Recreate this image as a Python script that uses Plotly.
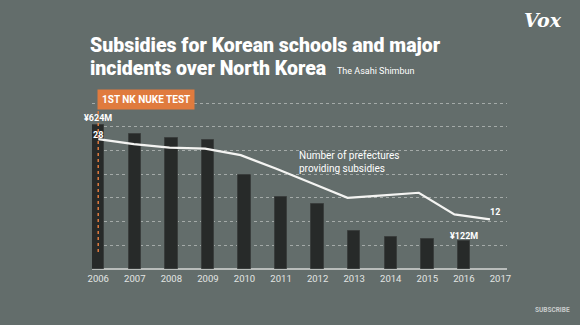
import plotly.graph_objects as go

# Subsidies to Korean schools (million yen) by fiscal year
years = [2006, 2007, 2008, 2009, 2010, 2011, 2012, 2013, 2014, 2015, 2016]
subsidies_m_yen = [624, 584, 567, 560, 406, 313, 283, 166, 141, 129, 122]

# Number of prefectures providing subsidies
pref_years = [2006, 2007, 2008, 2009, 2010, 2011, 2012, 2013, 2014, 2015, 2016, 2017]
prefectures = [28, 27, 26.3, 26.1, 24.8, 22.1, 19.2, 16.3, 16.8, 17.3, 13, 12]

tick_years = [2006, 2007, 2008, 2009, 2010, 2011, 2012, 2013, 2014, 2015, 2016, 2017]

BG = "#636d6b"
BAR = "#272a29"
ORANGE = "#e07b3e"
FONT = "Roboto"

# plot area: 415 x 168 px, bottom edge at y=269
PLOT_W, PLOT_H, BOTTOM = 415, 168, 269
GRID_STEP = 720 / 7
grid_vals = [GRID_STEP * i for i in range(1, 8)]


def px(xp, yp):
    """Pixel position in the page -> paper coordinates."""
    return (xp - 92) / PLOT_W, (BOTTOM - yp) / PLOT_H


fig = go.Figure()

fig.add_trace(go.Bar(
    x=years, y=subsidies_m_yen,
    marker=dict(color=BAR, line=dict(color="#3a3e3d", width=1)),
    width=0.34, xaxis="x", yaxis="y", hoverinfo="skip",
))

fig.add_trace(go.Scatter(
    x=pref_years, y=prefectures, mode="lines",
    line=dict(color="#f4f4f2", width=2.2),
    xaxis="x2", yaxis="y2", hoverinfo="skip",
))

fig.update_layout(
    width=580, height=325,
    margin=dict(l=92, r=73, t=101, b=56),
    paper_bgcolor=BG, plot_bgcolor=BG,
    showlegend=False,
    bargap=0,
    xaxis=dict(
        range=[2005.83, 2017.18], tickmode="array", tickvals=tick_years,
        ticktext=[str(y) for y in tick_years],
        tickfont=dict(family=FONT, size=9.5, color="#e2e5e3"),
        showgrid=False, zeroline=False, showline=False,
        ticks="outside", ticklen=1, tickcolor="rgba(0,0,0,0)",
    ),
    xaxis2=dict(
        range=[2005.823, 2017.477], overlaying="x", visible=False,
    ),
    yaxis=dict(
        range=[0, 729], tickmode="array", tickvals=grid_vals,
        showgrid=True, gridcolor="#a4aaa8", griddash="dot", gridwidth=1,
        showticklabels=False, zeroline=True, zerolinecolor="#b9bdbb",
        zerolinewidth=1.5, showline=False,
    ),
    yaxis2=dict(
        range=[2.1, 35.6], overlaying="y", visible=False,
    ),
)

# Orange marker for the first nuclear test
fig.add_shape(type="line", xref="x", yref="paper", x0=2006, x1=2006,
              y0=px(0, 252)[1], y1=px(0, 108)[1],
              line=dict(color=ORANGE, width=1.5, dash="dot"))

bx, by = px(97, 99)
fig.add_annotation(
    xref="paper", yref="paper", x=bx, y=by, xanchor="left", yanchor="middle",
    text="<b>1ST NK NUKE TEST</b>", showarrow=False,
    font=dict(family=FONT, size=10, color="#ffffff"),
    bgcolor=ORANGE, borderpad=4,
)

# Title block
for text, yp in [("Subsidies for Korean schools and major", 45),
                 ("incidents over North Korea", 68)]:
    tx, ty = px(88, yp)
    fig.add_annotation(
        xref="paper", yref="paper", x=tx, y=ty,
        xanchor="left", yanchor="middle", showarrow=False, text=text,
        font=dict(family=FONT, size=19.5, color="#ffffff", weight=900),
    )
sx, sy = px(335, 71)
fig.add_annotation(
    xref="paper", yref="paper", x=sx, y=sy,
    xanchor="left", yanchor="middle", showarrow=False,
    text="The Asahi Shimbun",
    font=dict(family=FONT, size=9, color="#ffffff"),
)

# Vox wordmark
vx, vy = px(543, 20)
fig.add_annotation(
    xref="paper", yref="paper", x=vx, y=vy,
    xanchor="center", yanchor="middle", showarrow=False,
    text="<b><i>Vox</i></b>",
    font=dict(family="DejaVu Serif", size=19, color="#ffffff"),
)

ux, uy = px(572, 310)
fig.add_annotation(
    xref="paper", yref="paper", x=ux, y=uy,
    xanchor="right", yanchor="middle", showarrow=False,
    text="<b>SUBSCRIBE</b>",
    font=dict(family=FONT, size=6.5, color="#c8cccb"),
)

# Value labels
fig.add_annotation(
    xref="x", yref="y", x=years[0], y=subsidies_m_yen[0], yshift=0,
    xanchor="center", yanchor="bottom", showarrow=False,
    text=f"<b>¥{subsidies_m_yen[0]}M</b>",
    font=dict(family=FONT, size=9, color="#ffffff"),
)
fig.add_annotation(
    xref="x", yref="y", x=years[-1], y=subsidies_m_yen[-1], yshift=-2,
    xanchor="center", yanchor="bottom", showarrow=False,
    text=f"<b>¥{subsidies_m_yen[-1]}M</b>",
    font=dict(family=FONT, size=9, color="#ffffff"),
)
fig.add_annotation(
    xref="x2", yref="y2", x=pref_years[0], y=prefectures[0], yshift=-3,
    xanchor="center", yanchor="bottom", showarrow=False,
    text=f"<b>{prefectures[0]}</b>",
    font=dict(family=FONT, size=9, color="#ffffff"),
)
fig.add_annotation(
    xref="x2", yref="y2", x=pref_years[-1], y=prefectures[-1], xshift=-2, yshift=0,
    xanchor="left", yanchor="bottom", showarrow=False,
    text=f"<b>{prefectures[-1]}</b>",
    font=dict(family=FONT, size=9, color="#ffffff"),
)
nx, ny = px(297, 162)
fig.add_annotation(
    xref="paper", yref="paper", x=nx, y=ny,
    xanchor="left", yanchor="middle", showarrow=False, align="left",
    text="Number of prefectures<br>providing subsidies",
    font=dict(family=FONT, size=10, color="#ffffff"),
)

fig.write_html("out.html")
